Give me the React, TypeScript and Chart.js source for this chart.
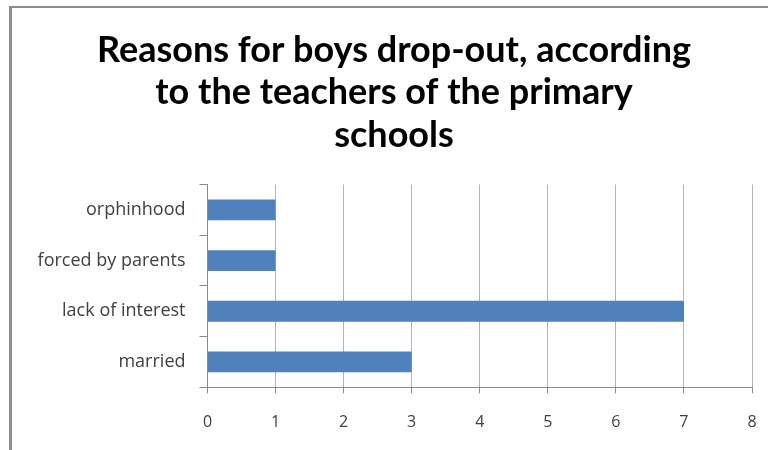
import React, { useEffect, useRef } from "react";
import { Chart, registerables } from "chart.js";

Chart.register(...registerables);

const titleLines = [
  "Reasons for boys drop-out, according",
  "to the teachers of the primary",
  "schools",
];
const categories = ["orphinhood", "forced by parents", "lack of interest", "married"];
const values = [1, 1, 7, 3];
const xMin = 0;
const xMax = 8;
const xStep = 1;

export default function App() {
  const ref = useRef<HTMLCanvasElement | null>(null);

  useEffect(() => {
    document.body.style.margin = "0";
    const ctx = ref.current;
    if (!ctx) return;
    const chart = new Chart(ctx, {
      type: "bar",
      data: {
        labels: categories,
        datasets: [
          {
            data: values,
            backgroundColor: "#4f81bd",
            borderWidth: 0,
            categoryPercentage: 1,
            barPercentage: 0.41,
          },
        ],
      },
      options: {
        indexAxis: "y",
        animation: false,
        responsive: false,
        maintainAspectRatio: false,
        layout: { padding: { left: 36, right: 16, top: 0, bottom: 0 } },
        plugins: {
          legend: { display: false },
          tooltip: { enabled: false },
          title: {
            display: true,
            text: titleLines,
            color: "#000000",
            font: { family: "Lato", weight: "bold", size: 36, lineHeight: 42.5 / 36 },
            padding: { top: 29, bottom: 28 },
          },
        },
        scales: {
          x: {
            min: xMin,
            max: xMax,
            ticks: {
              stepSize: xStep,
              color: "#404040",
              font: { family: "Open Sans", size: 16 },
              padding: 20,
            },
            grid: {
              color: "#b3b3b3",
              tickColor: "#8a8a8a",
              tickLength: 6,
              lineWidth: 1,
            },
            border: { color: "#8a8a8a", width: 1 },
            afterFit: (scale: any) => {
              scale.height = 62.7;
              scale.paddingLeft = 0;
              scale.paddingRight = 0;
            },
          },
          y: {
            ticks: {
              color: "#404040",
              font: { family: "Open Sans", size: 18 },
              padding: 14,
            },
            grid: {
              drawOnChartArea: false,
              tickColor: "#8a8a8a",
              tickLength: 8,
              offset: true,
            },
            border: { color: "#8a8a8a", width: 1 },
            afterFit: (scale: any) => {
              scale.width = 207.5 - 36;
              scale.paddingTop = 0;
              scale.paddingBottom = 0;
            },
          },
        },
      },
    });
    return () => chart.destroy();
  }, []);

  return (
    <div style={{ position: "relative", width: 768, height: 450, background: "#ffffff" }}>
      <canvas ref={ref} width={768} height={450} style={{ position: "absolute", left: 0, top: 0 }} />
      <div
        style={{
          position: "absolute",
          left: 9,
          top: 6,
          right: 0,
          bottom: 0,
          borderLeft: "3px solid #8c8c8c",
          borderTop: "2px solid #8c8c8c",
          pointerEvents: "none",
        }}
      />
    </div>
  );
}
